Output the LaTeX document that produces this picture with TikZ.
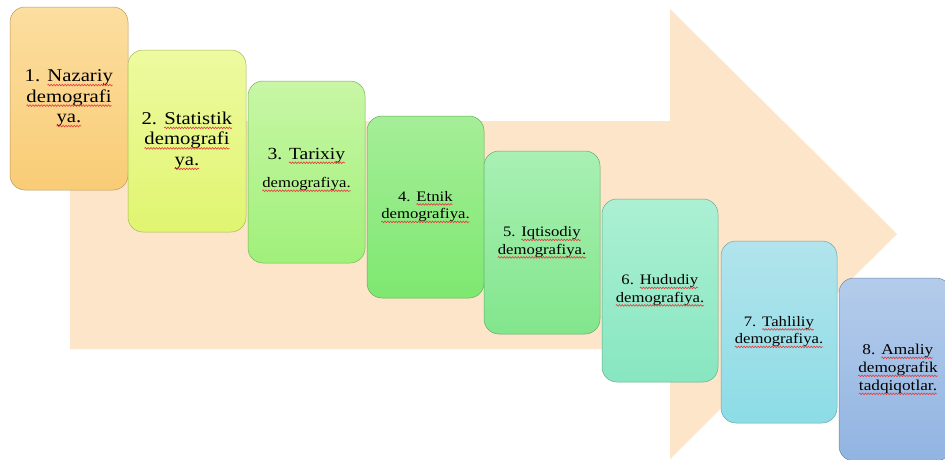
\documentclass[tikz,border=0pt]{standalone}
\usepackage{fontspec}
\setmainfont{Liberation Serif}[FakeStretch=1.15]
\usetikzlibrary{decorations.pathmorphing}
\definecolor{wavered}{RGB}{228,60,60}
\newcommand\rw[1]{\tikz[baseline=(w.base)]{\node[inner sep=0pt, outer sep=0pt, draw=none, fill=none] (w) {#1};
  \draw[wavered, line width=0.6pt, decorate, decoration={snake, amplitude=0.85pt, segment length=2.8pt}]
    ([yshift=-3.4pt]w.base west) -- ([yshift=-3.4pt]w.base east);}}
\definecolor{arrowfill}{RGB}{253,229,201}
\definecolor{aT}{RGB}{252,222,160}\definecolor{aB}{RGB}{249,204,118}
\definecolor{bT}{RGB}{238,250,160}\definecolor{bB}{RGB}{224,245,112}
\definecolor{cT}{RGB}{200,246,165}\definecolor{cB}{RGB}{160,240,122}
\definecolor{dT}{RGB}{165,238,152}\definecolor{dB}{RGB}{126,232,112}
\definecolor{eT}{RGB}{168,240,180}\definecolor{eB}{RGB}{130,230,140}
\definecolor{fT}{RGB}{172,240,212}\definecolor{fB}{RGB}{135,230,192}
\definecolor{gT}{RGB}{178,228,236}\definecolor{gB}{RGB}{140,220,230}
\definecolor{hT}{RGB}{180,204,235}\definecolor{hB}{RGB}{145,180,225}
\tikzset{
  stagebox/.style n args={2}{rounded corners=15pt, minimum width=117pt, minimum height=182pt,
    top color=#1, bottom color=#2, draw=#2!75!black, line width=0.5pt, inner sep=0pt},
  stagetext/.style={align=center, text=black, inner sep=0pt},
  bigtxt/.style={font=\fontsize{18}{20.5}\selectfont},
  smalltxt/.style={font=\fontsize{14.5}{17.5}\selectfont},
}
\begin{document}
\begin{tikzpicture}[x=1pt,y=-1pt]
\useasboundingbox (0,0) rectangle (945,459);
\fill[white] (0,0) rectangle (945,459);
\clip (0,0) rectangle (945,459);
\fill[arrowfill] (70,121) -- (670,121) -- (670,9) -- (897,234) -- (670,459) -- (670,349) -- (70,349) -- cycle;
\node[stagebox={aT}{aB}, minimum width=118pt, minimum height=183pt] (s1) at (69,98.5) {};
\node[stagebox={bT}{bB}, minimum width=118pt] (s2) at (187,141) {};
\node[stagebox={cT}{cB}] (s3) at (306.5,172) {};
\node[stagebox={dT}{dB}] (s4) at (425.5,207) {};
\node[stagebox={eT}{eB}, minimum width=116pt, minimum height=183pt] (s5) at (542,242.5) {};
\node[stagebox={fT}{fB}, minimum width=116pt, minimum height=183pt] (s6) at (660,290.5) {};
\node[stagebox={gT}{gB}, minimum width=116pt] (s7) at (779,332) {};
\node[stagebox={hT}{hB}, minimum width=112pt, minimum height=183pt] (s8) at (895,369.5) {};
\node[stagetext, bigtxt] (t1) at (s1.center) {1. \rw{Nazariy}\\\rw{demografi}\\\rw{ya.}};
\node[stagetext, bigtxt] (t2) at (s2.center) {2. \rw{Statistik}\\\rw{demografi}\\\rw{ya.}};
\node[stagetext, font=\fontsize{17}{20}\selectfont] (t3) at ([yshift=2pt]s3.center) {3. \rw{Tarixiy}\\[8pt]{\fontsize{14.5}{17}\selectfont\rw{demografiya.}}};
\node[stagetext, smalltxt] (t4) at (s4.center) {4. \rw{Etnik}\\\rw{demografiya.}};
\node[stagetext, smalltxt] (t5) at (s5.center) {5. \rw{Iqtisodiy}\\\rw{demografiya.}};
\node[stagetext, smalltxt] (t6) at (s6.center) {6. \rw{Hududiy}\\\rw{demografiya.}};
\node[stagetext, smalltxt] (t7) at (s7.center) {7. \rw{Tahliliy}\\\rw{demografiya.}};
\node[stagetext, font=\fontsize{15}{18}\selectfont] (t8) at ([xshift=3pt]s8.center) {8. \rw{Amaliy}\\\rw{demografik}\\\rw{tadqiqotlar.}};
\end{tikzpicture}
\end{document}
